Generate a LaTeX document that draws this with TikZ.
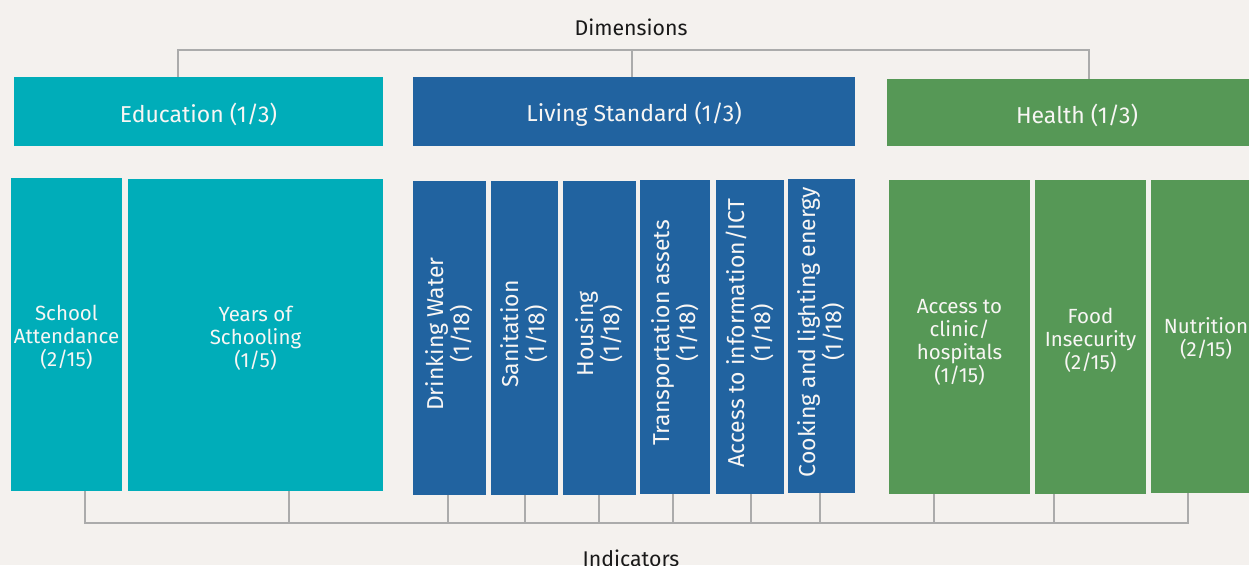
\documentclass[tikz,border=0pt]{standalone}
\usepackage{fontspec}
\setmainfont{Fira Sans}
\usetikzlibrary{calc}
\definecolor{bgc}{RGB}{244,241,238}
\definecolor{teal}{RGB}{0,173,185}
\definecolor{blu}{RGB}{33,99,160}
\definecolor{grn}{RGB}{86,152,86}
\definecolor{lgray}{RGB}{171,171,171}
\definecolor{txt}{RGB}{248,246,244}
\begin{document}
\begin{tikzpicture}[x=1pt,y=-1pt,
  boxx/.style={draw=none,inner sep=0pt,outer sep=0pt,text=txt,align=center,
    font=\fontsize{20.5}{23}\selectfont},
  rotx/.style={boxx,rotate=90,font=\fontsize{23}{26}\selectfont},
  dimbox/.style={boxx,minimum height=69pt,font=\fontsize{23}{26}\selectfont},
  indbox/.style={boxx},
  conn/.style={draw=lgray,line width=2.8pt},
  lbl/.style={font=\fontsize{21.3}{24}\selectfont,text=black!90}]
\useasboundingbox (0,0) rectangle (1249,565);
\clip (0,0) rectangle (1249,565);
\fill[bgc] (0,0) rectangle (1249,565);

% Dimension boxes
\node[dimbox,fill=teal,minimum width=369pt] (edu) at (198.5,111.5) {};
\node[dimbox,fill=blu,minimum width=442pt] (liv) at (634,111.5) {};
\node[dimbox,fill=grn,minimum width=380pt,minimum height=67pt] (hea) at (1077,112.5) {};
\node[dimbox,minimum height=0pt] (tedu) at ($(edu.center)+(0,3)$) {Education (1/3)};
\node[dimbox,minimum height=0pt] (tliv) at ($(liv.center)+(0,3)$) {Living Standard (1/3)};
\node[dimbox,minimum height=0pt] (thea) at ($(hea.center)+(0,3)$) {Health (1/3)};

% Indicator boxes
\node[indbox,fill=teal,minimum width=111pt,minimum height=313pt] (sa) at (66.5,334.5) {};
\node[indbox,fill=teal,minimum width=255pt,minimum height=312pt] (ys) at (255.5,335) {};
\node[indbox,fill=blu,minimum width=73pt,minimum height=314pt] (dw) at (449.5,338) {};
\node[indbox,fill=blu,minimum width=67pt,minimum height=314pt] (san) at (524.5,338) {};
\node[indbox,fill=blu,minimum width=73pt,minimum height=314pt] (hou) at (599.5,338) {};
\node[indbox,fill=blu,minimum width=70pt,minimum height=314pt] (tra) at (675,337) {};
\node[indbox,fill=blu,minimum width=68pt,minimum height=314pt] (ict) at (750,337) {};
\node[indbox,fill=blu,minimum width=67pt,minimum height=314pt] (coo) at (821.5,336) {};
\node[indbox,fill=grn,minimum width=141pt,minimum height=314pt] (cli) at (959.5,337) {};
\node[indbox,fill=grn,minimum width=111pt,minimum height=314pt] (food) at (1090.5,337) {};
\node[indbox,fill=grn,minimum width=110pt,minimum height=313pt] (nut) at (1206,336.5) {};

% Indicator texts
\node[boxx] (tsa) at ($(sa.center)+(0,3)$) {School\\Attendance\\(2/15)};
\node[boxx] (tys) at ($(ys.center)+(0,3)$) {Years of\\Schooling\\(1/5)};
\node[rotx] (tdw) at ($(dw.center)+(0,-4)$) {Drinking Water\\(1/18)};
\node[rotx] (tsan) at ($(san.center)+(0,-4)$) {Sanitation\\(1/18)};
\node[rotx] (thou) at ($(hou.center)+(0,-4)$) {Housing\\(1/18)};
\node[rotx] (ttra) at ($(tra.center)+(0,-4)$) {Transportation assets\\(1/18)};
\node[rotx] (tict) at ($(ict.center)+(0,-4)$) {Access to information/ICT\\(1/18)};
\node[rotx] (tcoo) at ($(coo.center)+(0,-4)$) {Cooking and lighting energy\\(1/18)};
\node[boxx] (tcli) at ($(cli.center)+(0,5)$) {Access to\\clinic/\\hospitals\\(1/15)};
\node[boxx] (tfood) at ($(food.center)+(0,3)$) {Food\\Insecurity\\(2/15)};
\node[boxx] (tnut) at ($(nut.center)+(0,2)$) {Nutrition\\(2/15)};

% Labels
\node[lbl] (dim) at (631,27) {Dimensions};
\node[lbl] (ind) at (631,558) {Indicators};

% Top bracket
\coordinate (tl) at (178,50);
\coordinate (tr) at (1089,50);
\draw[conn] ([xshift=-20.5pt]edu.north) -- ([xshift=-20.5pt]edu.north |- tl) -- (tr) -- ([xshift=12pt]hea.north);
\draw[conn] ([xshift=-2pt]liv.north) -- ([xshift=-2pt]liv.north |- tl);

% Bottom bracket
\coordinate (bl) at (85,523);
\coordinate (br) at (1188,523);
\draw[conn] ([xshift=18.5pt]sa.south) -- ([xshift=18.5pt]sa.south |- bl) -- (br) -- ([xshift=-18pt]nut.south);
\foreach \n/\dx in {ys/33.5,dw/-1.5,san/0.5,hou/-0.5,tra/-2,ict/1,coo/-1.5,cli/-25.5,food/-36.5}{
  \draw[conn] ([xshift=\dx pt]\n.south) -- ([xshift=\dx pt]\n.south |- bl);
}
\end{tikzpicture}
\end{document}
